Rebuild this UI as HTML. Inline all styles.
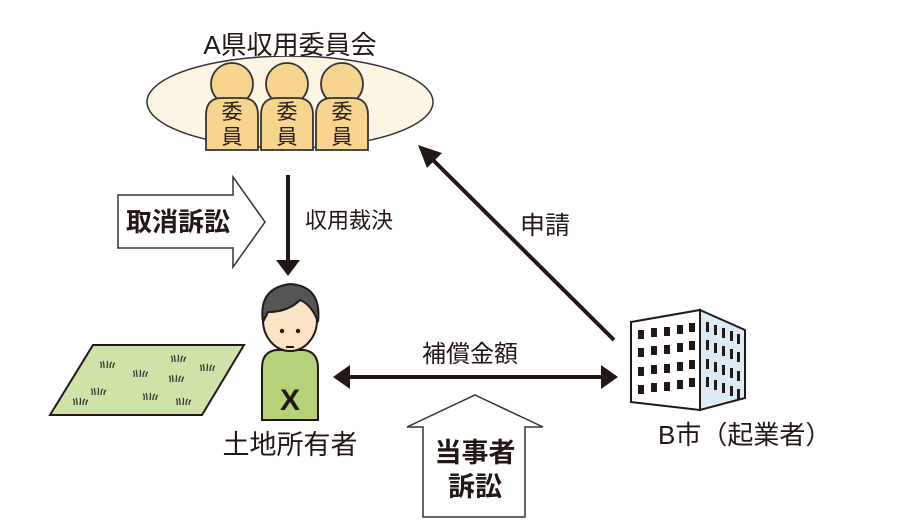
<!DOCTYPE html>
<html><head><meta charset="utf-8"><style>
html,body{margin:0;padding:0;background:#fff;}
svg{display:block}
text{font-family:"Liberation Sans","Noto Sans CJK JP",sans-serif;fill:#231815}
</style></head><body>
<svg width="902" height="528" viewBox="0 0 902 528" xmlns="http://www.w3.org/2000/svg">
<defs>
<g id="tuft" fill="none" stroke="#333" stroke-width="1.3"><path d="M-6 2 Q-5 -3 -7 -4 M-3 2 Q-3 -3 -4 -5 M0 2 Q1 -4 0 -5 M3 2 Q3 -3 5 -4 M6 2 Q6 -2 8 -3"/></g>
</defs>
<!-- committee -->
<ellipse cx="290" cy="102" rx="143" ry="46" fill="#fdf5e4" stroke="#333" stroke-width="1.5"/>
<rect x="190" y="28" width="200" height="28" fill="#fff"/>
<text x="290" y="54" font-size="26" text-anchor="middle">A県収用委員会</text>
<g stroke="#333" stroke-width="1.8" fill="#f8d58f">
<g transform="translate(232,0)"><circle cx="0" cy="84" r="21"/><path d="M-26 150 L-26 115 Q-26 98 -10 98 L10 98 Q26 98 26 115 L26 150 Z"/></g>
<g transform="translate(287,0)"><circle cx="0" cy="84" r="21"/><path d="M-26 150 L-26 115 Q-26 98 -10 98 L10 98 Q26 98 26 115 L26 150 Z"/></g>
<g transform="translate(342,0)"><circle cx="0" cy="84" r="21"/><path d="M-26 150 L-26 115 Q-26 98 -10 98 L10 98 Q26 98 26 115 L26 150 Z"/></g>
</g>
<g font-size="21" text-anchor="middle">
<text x="232" y="119">委</text><text x="232" y="144">員</text>
<text x="287" y="119">委</text><text x="287" y="144">員</text>
<text x="342" y="119">委</text><text x="342" y="144">員</text>
</g>
<!-- 取消訴訟 arrow -->
<path d="M118 195 L233 195 L233 177 L265 222 L233 267 L233 248 L118 248 Z" fill="#fff" stroke="#333" stroke-width="1.5"/>
<text x="126" y="231" font-size="26" font-weight="bold">取消訴訟</text>
<!-- down arrow -->
<line x1="288" y1="175" x2="288" y2="262" stroke="#231815" stroke-width="4"/>
<path d="M276 260 L300 260 L288 276 Z" fill="#231815"/>
<text x="305" y="228" font-size="22">収用裁決</text>
<!-- diagonal arrow -->
<line x1="614" y1="340" x2="430" y2="157" stroke="#231815" stroke-width="4"/>
<path d="M418 145 L442 153 L427 168 Z" fill="#231815"/>
<text x="520" y="234" font-size="25">申請</text>
<!-- double arrow -->
<line x1="348" y1="377" x2="604" y2="377" stroke="#231815" stroke-width="4"/>
<path d="M333 377 L350 365 L350 389 Z" fill="#231815"/>
<path d="M618 377 L601 365 L601 389 Z" fill="#231815"/>
<text x="470" y="362" font-size="24" text-anchor="middle">補償金額</text>
<!-- field -->
<path d="M50 415 L93 345 L244 345 L202 415 Z" fill="#cfe3a9" stroke="#231815" stroke-width="2"/>
<use href="#tuft" x="107" y="366"/><use href="#tuft" x="178" y="360"/><use href="#tuft" x="207" y="369"/>
<use href="#tuft" x="140" y="375"/><use href="#tuft" x="176" y="380"/><use href="#tuft" x="98" y="393"/>
<use href="#tuft" x="150" y="398"/><use href="#tuft" x="80" y="403"/><use href="#tuft" x="183" y="403"/>
<!-- person -->
<path d="M262 420 L262 368 Q262 352 276 350 L304 350 Q318 352 318 368 L318 420 Z" fill="#b5d27a" stroke="#231815" stroke-width="2"/>
<ellipse cx="290" cy="320" rx="27" ry="31" fill="#fbe3c6" stroke="#231815" stroke-width="2"/>
<path d="M263 322 Q258 288 290 284 Q322 286 318 322 Q312 305 300 300 Q288 312 268 312 Z" fill="#555" stroke="#231815" stroke-width="2"/>
<circle cx="282" cy="331" r="2.2" fill="#231815"/><circle cx="298" cy="331" r="2.2" fill="#231815"/>
<line x1="286" y1="347" x2="294" y2="347" stroke="#231815" stroke-width="2"/>
<text x="290" y="410" font-size="30" font-weight="bold" text-anchor="middle">X</text>
<text x="290" y="454" font-size="27" text-anchor="middle">土地所有者</text>
<!-- building -->
<path d="M700 310 L745 330 L745 398 L700 410 Z" fill="#dcebf5" stroke="#231815" stroke-width="2"/>
<path d="M631 322 L700 310 L700 410 L631 402 Z" fill="#fff" stroke="#231815" stroke-width="2"/>
<g fill="#231815">
<g id="r1"><rect x="638" y="330" width="6" height="9"/><rect x="651" y="328" width="6" height="9"/><rect x="664" y="327" width="6" height="9"/><rect x="677" y="325" width="6" height="9"/><rect x="689" y="323" width="6" height="9"/></g>
<use href="#r1" y="18"/><use href="#r1" y="37"/><use href="#r1" y="55"/>
<g id="s1"><rect x="706" y="322" width="3" height="10"/><rect x="714" y="325" width="3" height="10"/><rect x="722" y="328" width="3" height="10"/><rect x="730" y="331" width="3" height="10"/><rect x="737" y="334" width="3" height="10"/></g>
<use href="#s1" y="18"/><use href="#s1" y="37"/><use href="#s1" y="55"/>
</g>
<text x="658" y="444" font-size="26">B市（起業者）</text>
<!-- 当事者訴訟 -->
<path d="M475 395 L543 427 L525 427 L525 517 L423 517 L423 427 L407 427 Z" fill="#fff" stroke="#333" stroke-width="1.5"/>
<text x="475" y="462" font-size="27" font-weight="bold" text-anchor="middle">当事者</text>
<text x="475" y="496" font-size="27" font-weight="bold" text-anchor="middle">訴訟</text>
</svg>
</body></html>
